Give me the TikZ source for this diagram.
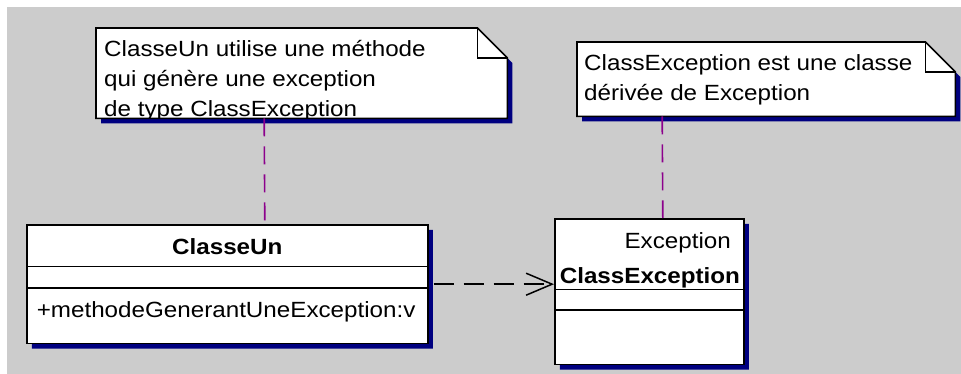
\documentclass[tikz,border=0pt]{standalone}
\usepackage{fontspec}
\newfontfamily\umlfont[FakeStretch=1.1]{Liberation Sans}
\newcommand{\umlsize}{\fontsize{22pt}{30pt}\selectfont}
\usetikzlibrary{shapes.multipart,shadows,arrows.meta}

\definecolor{fondgris}{RGB}{204,204,204}
\definecolor{ombrebleue}{RGB}{0,0,128}
\definecolor{liennote}{RGB}{140,0,140}

\tikzset{
  ombre/.style={drop shadow={shadow xshift=5pt,shadow yshift=-5pt,fill=ombrebleue,opacity=1}},
  classe/.style={rectangle split,rectangle split parts=3,draw,fill=white,line width=1.6pt,
    inner xsep=10pt,inner ysep=0pt,anchor=north west,ombre,font=\umlfont\umlsize},
  zonenote/.style={rectangle,anchor=north west,inner sep=0pt},
  bordnote/.style={draw,fill=white,line width=1.6pt,ombre},
  textenote/.style={anchor=base west,inner sep=0pt,font=\umlfont\umlsize},
  liennote/.style={draw=liennote,line width=1.6pt,dash pattern=on 18pt off 10pt},
  dependance/.style={draw,line width=1.5pt,dash pattern=on 20pt off 10pt,
    -{Straight Barb[length=26pt,width=22pt]}}
}

\begin{document}
\begin{tikzpicture}[x=1pt,y=-1pt]
    \pgfmathsetmacro{\pli}{30}
    \useasboundingbox (0,0) rectangle (961,374);
    \fill[fondgris] (7,7) rectangle (961,374);
    % les deux classes
    \node[classe,minimum width=401pt,rectangle split part align={center,left,left}] (classeun) at (26,224)
        {\rule[-11pt]{0pt}{40pt}\textbf{ClasseUn}
         \nodepart{two}\rule{0pt}{20pt}
         \nodepart{three}\rule[-25pt]{0pt}{54pt}+methodeGenerantUneException:v};
    \node[classe,minimum width=189pt,inner xsep=5pt,rectangle split part align={left,left,left}] (classexc) at (554,218)
        {\rule[-5pt]{0pt}{69pt}\parbox[b]{179pt}{\hfill Exception\hspace*{8pt}\\[5pt]\textbf{ClassException}}
         \nodepart{two}\rule{0pt}{19pt}
         \nodepart{three}\rule{0pt}{53pt}};
    % notes
    \node[zonenote,minimum width=411pt,minimum height=90pt] (noteun) at (96,28) {};
    \filldraw[bordnote] (noteun.south west) -- (noteun.north west) -- ([xshift=-\pli pt]noteun.north east)
        -- ([yshift=-\pli pt]noteun.north east) -- (noteun.south east) -- cycle;
    \draw[line width=1.6pt] ([xshift=-\pli pt]noteun.north east) |- ([yshift=-\pli pt]noteun.north east);
    \begin{scope}
        \clip (noteun.north west) rectangle (noteun.south east);
        \node[textenote] (texteun) at ([xshift=8pt,yshift=-29pt]noteun.north west)
            {\vtop{\hbox{ClasseUn utilise une méthode}\hbox{qui génère une exception}\hbox{de type ClassException}}};
    \end{scope}
    \node[zonenote,minimum width=378pt,minimum height=74pt] (noteexc) at (577,42) {};
    \filldraw[bordnote] (noteexc.south west) -- (noteexc.north west) -- ([xshift=-\pli pt]noteexc.north east)
        -- ([yshift=-\pli pt]noteexc.north east) -- (noteexc.south east) -- cycle;
    \draw[line width=1.6pt] ([xshift=-\pli pt]noteexc.north east) |- ([yshift=-\pli pt]noteexc.north east);
    \node[textenote] (texteexc) at ([xshift=7pt,yshift=-29pt]noteexc.north west)
        {\vtop{\hbox{ClassException est une classe}\hbox{dérivée de Exception}}};
    % liens
    \draw[liennote] ([xshift=-37.5pt]noteun.south) -- ([xshift=37.5pt]classeun.north);
    \draw[liennote] ([xshift=-104pt]noteexc.south) -- ([xshift=13.5pt]classexc.north);
    \draw[dependance] ([xshift=5pt]classeun.east) -- (classeun.east -| classexc.west);
\end{tikzpicture}
\end{document}
